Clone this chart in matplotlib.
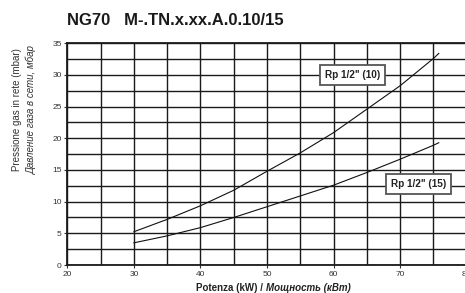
import matplotlib
matplotlib.use("Agg")
import matplotlib.pyplot as plt
import numpy as np

# Data
power_kw = [30, 35, 40, 45, 50, 55, 60, 65, 70, 75, 75.8]
rp_10 = [5.25, 7.2, 9.35, 11.8, 14.8, 17.7, 20.9, 24.6, 28.3, 32.6, 33.4]
rp_15 = [3.5, 4.6, 5.9, 7.5, 9.2, 10.9, 12.6, 14.6, 16.7, 18.9, 19.3]
series_labels = ['Rp 1/2" (10)', 'Rp 1/2" (15)']
label_pos = [(62.8, 30.0), (72.8, 12.8)]
x_ticks = [20, 30, 40, 50, 60, 70, 80]
y_ticks = [0, 5, 10, 15, 20, 25, 30, 35]
title = "NG70   M-.TN.x.xx.A.0.10/15"

plt.rcParams['font.family'] = ['Liberation Sans', 'DejaVu Sans']

W, H = 465, 293
fig = plt.figure(figsize=(W / 100, H / 100), dpi=100)
ax = fig.add_axes([67.3 / W, 1 - 265 / H, (466.7 - 67.3) / W, (265 - 43.3) / H])

ax.set_xlim(20, 80)
ax.set_ylim(0, 35)
ax.set_xticks(x_ticks)
ax.set_xticks(np.arange(20, 81, 5), minor=True)
ax.set_yticks(y_ticks)
ax.set_yticks(np.arange(0, 35.1, 2.5), minor=True)
ax.grid(True, which='both', color='#1a1a1a', linewidth=1.0)
ax.set_axisbelow(True)
ax.tick_params(axis='both', which='major', labelsize=6, labelcolor='#333333',
               length=2.5, width=0.8, color='#333333', pad=1.5)
ax.tick_params(axis='both', which='minor', length=0)
for s in ax.spines.values():
    s.set_color('#1a1a1a')
    s.set_linewidth(1.3)

ax.plot(power_kw, rp_10, color='#111111', linewidth=0.8)
ax.plot(power_kw, rp_15, color='#111111', linewidth=0.8)

for lab, (lx, ly) in zip(series_labels, label_pos):
    ax.text(lx, ly, lab, fontsize=7.2, fontweight='bold', color='#222222',
            ha='center', va='center', zorder=5,
            bbox=dict(boxstyle='square,pad=0.5', facecolor='white',
                      edgecolor='#555555', linewidth=1.3))

fig.text(67 / W, 1 - 20.5 / H, title, fontsize=12, fontweight='bold',
         ha='left', va='center', color='#1a1a1a')

fig.text(16.7 / W, 1 - 110 / H, "Pressione gas in rete (mbar)", rotation=90,
         fontsize=7, ha='center', va='center', color='#333333')
fig.text(32 / W, 1 - 110 / H, "Давление газа в сети, мбар", rotation=90,
         fontsize=7, style='italic', ha='center', va='center', color='#333333')

fig.text(263 / W, 1 - 288 / H, "Potenza (kW) /", fontsize=7, fontweight='bold',
         ha='right', va='center', color='#222222')
fig.text(266 / W, 1 - 288 / H, "Мощность (кВт)", fontsize=7, fontweight='bold',
         style='italic', ha='left', va='center', color='#222222')

fig.savefig("out.png", dpi=100)
